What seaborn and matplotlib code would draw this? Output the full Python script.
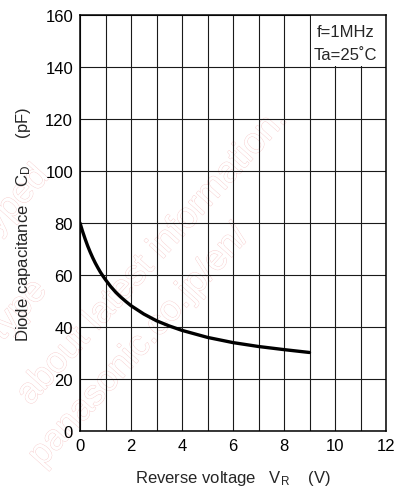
import matplotlib
matplotlib.use("Agg")
import matplotlib.pyplot as plt
import matplotlib.patheffects as pe
from matplotlib.patches import Rectangle
import seaborn as sns
import pandas as pd

# --- Data ---
reverse_voltage = [0, 0.1, 0.2, 0.3, 0.4, 0.5, 0.6, 0.7, 0.8, 0.9, 1.0, 1.2, 1.4, 1.6, 1.8,
                   2.0, 2.5, 3.0, 3.5, 4.0, 5.0, 6.0, 7.0, 8.0, 9.0]
capacitance = [80, 76.8, 73.9, 71.2, 68.8, 66.6, 64.6, 62.8, 61.1, 59.6, 58.2, 55.6, 53.4, 51.5, 49.8,
               48.2, 45.0, 42.4, 40.4, 38.7, 36.0, 34.0, 32.5, 31.3, 30.2]

x_ticks = [0, 2, 4, 6, 8, 10, 12]
x_minor = [1, 3, 5, 7, 9, 11]
y_ticks = [0, 20, 40, 60, 80, 100, 120, 140, 160]
conditions = ["f=1MHz", "Ta=25˚C"]

# faint diagonal watermark fragments (text, baseline end point in pixels)
watermark = [
    ("typed", (50, 178)),
    ("type", (48, 292)),
    ("about latest information.", (288, 121)),
    ("panasonic.co.jp/en/", (250, 238)),
]

df = pd.DataFrame({"VR": reverse_voltage, "CD": capacitance})

sns.set_style("white")
plt.rcParams["font.family"] = ["Liberation Sans", "DejaVu Sans"]
plt.rcParams["mathtext.fontset"] = "custom"
plt.rcParams["mathtext.rm"] = "Liberation Sans"

W, H = 404, 489
fig = plt.figure(figsize=(W / 100, H / 100), dpi=100)
ax = fig.add_axes([80 / W, 1 - 432 / H, 306 / W, 416 / H])
ax.set_facecolor("none")

# --- watermark behind everything ---
for txt, (px, py) in watermark:
    fig.text(px / W, 1 - py / H, txt, fontsize=26, rotation=48, rotation_mode="anchor",
             ha="right", va="baseline", color="white", zorder=-5,
             path_effects=[pe.Stroke(linewidth=0.6, foreground="#f7cccc"), pe.Normal()])

sns.lineplot(data=df, x="VR", y="CD", color="black", linewidth=2.4, ax=ax, zorder=3)

ax.set_xlim(0, 12)
ax.set_ylim(0, 160)
ax.set_xticks(x_ticks)
ax.set_xticks(x_minor, minor=True)
ax.set_yticks(y_ticks)
ax.grid(which="both", color="#1a1a1a", linewidth=0.8)
ax.set_axisbelow(True)
ax.tick_params(which="both", length=0, pad=5, labelsize=12, colors="black")

for s in ax.spines.values():
    s.set_visible(True)
    s.set_color("black")
    s.set_linewidth(1.1)

# condition box covering the top-right cells
ax.add_patch(Rectangle((9.04, 140.4), 2.96, 19.6, facecolor="white",
                       edgecolor="none", zorder=1.5))
ax.text(10.42, 151.8, conditions[0], ha="center", va="baseline", fontsize=12, zorder=4)
ax.text(10.42, 143.1, conditions[1], ha="center", va="baseline", fontsize=12, zorder=4)

ax.set_xlabel("Reverse voltage   $\\mathregular{V_R}$    (V)", fontsize=12)
ax.set_ylabel("Diode capacitance    $\\mathregular{C_D}$      (pF)", fontsize=12)
ax.xaxis.set_label_coords(0.5, -0.089)
ax.yaxis.set_label_coords(-0.152, 0.5)
ax.xaxis.label.set_va("top")

fig.savefig("out.png", dpi=100)
